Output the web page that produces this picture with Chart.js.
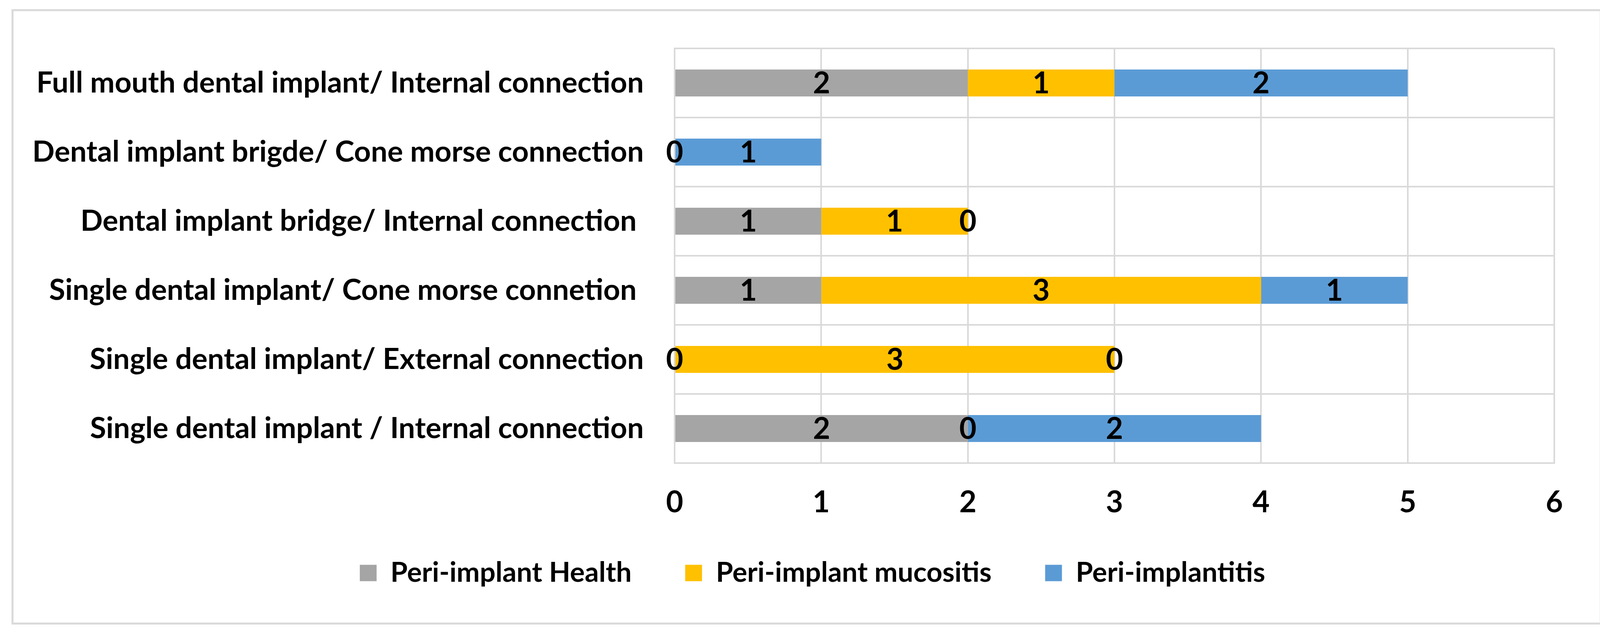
<!DOCTYPE html>
<html>
<head>
<meta charset="utf-8">
<script src="https://cdn.jsdelivr.net/npm/chart.js@4.4.1/dist/chart.umd.min.js"></script>
<style>
  html, body { margin: 0; padding: 0; background: #ffffff; }
  #wrap { width: 4135px; height: 1634px; }
</style>
</head>
<body>
<div id="wrap"><canvas id="c" width="4135" height="1634"></canvas></div>
<script>
// ---- data (top row first) ----
const categories = [
  "Full mouth dental implant/ Internal connection",
  "Dental implant brigde/ Cone morse connection",
  "Dental implant bridge/ Internal connection ",
  "Single dental implant/ Cone morse connetion ",
  "Single dental implant/ External connection",
  "Single dental implant / Internal connection"
];
const seriesNames = ["Peri-implant Health", "Peri-implant mucositis", "Peri-implantitis"];
const healthValues      = [2, 0, 1, 1, 0, 2];
const mucositisValues   = [1, null, 1, 3, 3, 0];
const implantitisValues = [2, 1, 0, 1, 0, 2];
const xTicks = [0, 1, 2, 3, 4, 5, 6];

const colors = ["#a5a5a5", "#ffc000", "#5b9bd5"];
const FONT = "Lato";

const frame = {
  id: 'frame',
  beforeDraw(chart) {
    const ctx = chart.ctx;
    ctx.save();
    ctx.fillStyle = '#ffffff';
    ctx.fillRect(0, 0, chart.width, chart.height);
    ctx.strokeStyle = '#d9d9d9';
    ctx.lineWidth = 5;
    ctx.strokeRect(32, 26, 4066, 1571);
    ctx.restore();
  }
};

const valueLabels = {
  id: 'valueLabels',
  afterDatasetsDraw(chart) {
    const ctx = chart.ctx;
    ctx.save();
    ctx.font = `bold 76px ${FONT}`;
    ctx.fillStyle = '#000000';
    ctx.textAlign = 'center';
    ctx.textBaseline = 'middle';
    chart.data.datasets.forEach((ds, di) => {
      const meta = chart.getDatasetMeta(di);
      meta.data.forEach((el, i) => {
        const v = ds.data[i];
        if (v === null || v === undefined) return;
        const p = el.getProps(['x', 'y', 'base'], true);
        ctx.fillText(String(v), (p.x + p.base) / 2, p.y + 2);
      });
    });
    ctx.restore();
  }
};

const noClip = s => { s._computeLabelArea = () => null; };

new Chart(document.getElementById('c'), {
  type: 'bar',
  data: {
    labels: categories,
    datasets: [
      { label: seriesNames[0], data: healthValues, backgroundColor: colors[0] },
      { label: seriesNames[1], data: mucositisValues, backgroundColor: colors[1] },
      { label: seriesNames[2], data: implantitisValues, backgroundColor: colors[2] }
    ]
  },
  options: {
    indexAxis: 'y',
    responsive: false,
    animation: false,
    devicePixelRatio: 1,
    layout: { padding: { top: 123, left: 181, right: 156, bottom: 121 } },
    datasets: { bar: { categoryPercentage: 1.0, barPercentage: 0.39, borderWidth: 0 } },
    scales: {
      x: {
        stacked: true,
        min: 0, max: 6,
        afterBuildTicks: s => { s.ticks = xTicks.map(v => ({ value: v })); },
        grid: { color: '#d9d9d9', lineWidth: 4, drawTicks: false },
        border: { color: '#d9d9d9', width: 4 },
        ticks: { color: '#000000', font: { family: FONT, size: 76, weight: 'bold' }, padding: 56 },
        afterFit: s => { s.height = 109; noClip(s); }
      },
      y: {
        stacked: true,
        grid: { color: '#d9d9d9', lineWidth: 4, drawTicks: false, offset: true },
        border: { color: '#d9d9d9', width: 4 },
        ticks: { color: '#000000', font: { family: FONT, size: 75, weight: 'bold' }, padding: 79 },
        afterFit: s => { s.width = 1727 - 181; noClip(s); }
      }
    },
    plugins: {
      legend: {
        position: 'bottom',
        labels: {
          color: '#000000',
          font: { family: FONT, size: 71, weight: 'bold' },
          boxWidth: 43, boxHeight: 42,
          padding: 137
        }
      },
      tooltip: { enabled: false }
    }
  },
  plugins: [frame, valueLabels]
});
</script>
</body>
</html>
